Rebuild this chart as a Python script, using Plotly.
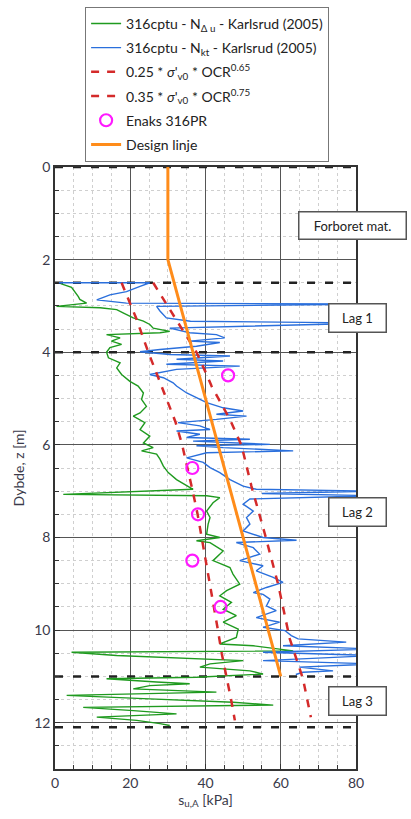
import plotly.graph_objects as go

# ---------------- data ----------------
green_z = [2.52, 2.60, 2.80, 2.86, 2.94, 3.01, 3.04, 3.08, 3.15, 3.26,
           3.33, 3.40, 3.48, 3.55, 3.58, 3.62, 3.69, 3.76, 3.83, 3.90,
           4.00, 4.12, 4.23, 4.34, 4.48, 4.63, 4.73, 4.88, 5.02, 5.17,
           5.31, 5.38, 5.52, 5.67, 5.81, 5.96, 6.06, 6.13, 6.20, 6.31,
           6.46, 6.60, 6.75, 6.89, 6.96, 7.07, 7.10, 7.14, 7.25, 7.43,
           7.57, 7.71, 7.93, 8.00, 8.07, 8.11, 8.29, 8.50, 8.65, 8.79,
           9.01, 9.15, 9.26, 9.40, 9.55, 9.69, 9.83, 9.98, 10.16, 10.30,
           10.34, 10.45, 10.48, 10.55, 10.63, 10.66, 10.73, 10.80, 10.88, 10.95,
           11.02, 11.05, 11.12, 11.16, 11.20, 11.27, 11.34, 11.41, 11.48, 11.56,
           11.62, 11.67, 11.74, 11.81, 11.88, 11.95, 12.02, 12.06]
green_su = [1.5, 4.4, 6.2, 6.6, 8.4, 0.4, 12.0, 16.4, 18.1, 20.8,
            23.5, 25.2, 26.1, 30.5, 27.9, 13.7, 17.3, 15.0, 17.7, 14.6,
            13.7, 14.2, 17.3, 16.4, 17.7, 19.9, 22.1, 23.5, 23.0, 24.3,
            22.6, 20.8, 23.9, 22.6, 25.2, 23.5, 26.1, 23.0, 27.0, 27.9,
            28.8, 30.1, 32.3, 35.0, 36.7, 2.2, 40.3, 43.8, 42.0, 40.3,
            41.2, 40.7, 40.3, 43.8, 37.6, 41.2, 44.7, 42.0, 46.5, 47.3,
            49.1, 45.6, 43.8, 46.9, 44.7, 48.2, 44.7, 48.7, 48.2, 43.8,
            52.7, 63.3, 4.4, 16.4, 43.8, 50.0, 41.2, 38.5, 51.8, 55.3,
            37.6, 13.7, 27.0, 35.8, 25.2, 20.8, 42.9, 3.1, 23.5, 47.3,
            58.0, 7.5, 20.8, 32.3, 11.1, 21.7, 27.9, 30.5]

blue_z = [2.50, 2.50, 2.58, 2.69, 2.76, 2.87, 2.94, 2.96, 3.01, 3.11,
          3.26, 3.33, 3.37, 3.48, 3.58, 3.62, 3.69, 3.76, 3.79, 3.87,
          3.94, 3.99, 4.05, 4.08, 4.15, 4.19, 4.26, 4.30, 4.37, 4.44,
          4.48, 4.55, 4.66, 4.73, 4.88, 4.98, 5.09, 5.20, 5.27, 5.34,
          5.38, 5.45, 5.52, 5.59, 5.67, 5.70, 5.77, 5.84, 5.88, 5.92,
          5.99, 6.02, 6.06, 6.13, 6.17, 6.28, 6.38, 6.49, 6.60, 6.75,
          6.89, 6.96, 7.00, 7.05, 7.10, 7.17, 7.28, 7.43, 7.57, 7.71,
          7.86, 8.00, 8.06, 8.11, 8.22, 8.36, 8.50, 8.61, 8.72, 8.86,
          8.97, 9.08, 9.19, 9.23, 9.33, 9.48, 9.58, 9.73, 9.83, 9.94,
          10.01, 10.12, 10.19, 10.26, 10.34, 10.41, 10.48, 10.55, 10.66, 10.73,
          10.80, 10.88, 10.91, 10.96]
blue_su = [1.0, 25.2, 22.6, 19.0, 14.6, 11.1, 19.0, 85.0, 27.0, 27.9,
           29.6, 36.0, 85.0, 30.5, 35.8, 42.9, 45.1, 35.8, 43.8, 37.6,
           27.9, 22.6, 30.5, 46.5, 32.3, 44.7, 29.6, 49.1, 32.3, 27.9,
           25.2, 28.8, 31.4, 32.3, 35.0, 37.6, 40.3, 44.7, 50.0, 42.9,
           50.9, 42.9, 32.7, 38.5, 41.2, 32.3, 38.5, 35.0, 51.8, 36.7,
           57.1, 37.6, 44.7, 63.3, 40.3, 35.0, 39.4, 41.2, 43.8, 46.5,
           50.0, 53.5, 85.0, 55.0, 85.0, 51.8, 50.0, 52.7, 50.9, 51.8,
           50.0, 55.3, 64.2, 48.2, 52.7, 54.4, 49.1, 55.3, 53.5, 58.0,
           60.6, 56.2, 52.7, 55.3, 57.1, 56.2, 58.8, 53.5, 59.7, 55.3,
           61.1, 62.8, 64.6, 77.4, 60.6, 85.0, 55.3, 85.0, 55.3, 85.0,
           65.0, 73.9, 65.9, 64.0]

red1_z = [2.5, 3.25, 4.0, 4.5, 5.0, 5.5, 6.0, 6.5, 7.0, 7.5, 8.0, 8.5, 9.0, 9.5, 10.0, 10.5, 11.0, 11.5, 11.95]
red1_su = [17.7, 21.5, 24.8, 27.2, 29.5, 32.0, 33.8, 35.3, 36.6, 37.9, 39.0, 40.0, 41.1, 42.3, 43.3, 44.3, 45.6, 46.8, 47.8]

red2_z = [2.5, 3.26, 4.0, 4.48, 4.73, 5.45, 6.02, 6.89, 7.93, 9.01, 10.19, 11.05, 11.88]
red2_su = [26.1, 31.9, 37.6, 40.3, 41.6, 46.5, 49.6, 52.2, 55.8, 59.3, 62.4, 65.9, 68.0]

pr_z = [4.5, 6.5, 7.5, 8.5, 9.5]
pr_su = [46.0, 36.5, 38.0, 36.5, 44.0]

design_z = [0, 2, 11]
design_su = [30, 30, 60]

layer_depths = [0, 2.5, 4, 11, 12.1]
layer_x = [0, 79]

labels = ["Forboret mat.", "Lag 1", "Lag 2", "Lag 3"]
label_depths = [1.27, 3.25, 7.46, 11.53]

FONT = "Lato"
TXT = "#3a3a4a"

fig = go.Figure()

for d in layer_depths:
    fig.add_trace(go.Scatter(x=layer_x, y=[d, d], mode="lines", showlegend=False,
                             hoverinfo="skip",
                             line=dict(color="#222222", width=2.5, dash="8px,10px")))

fig.add_trace(go.Scatter(x=green_su, y=green_z, mode="lines", legendgroup="g1",
                         name="316cptu - N<sub>\u0394 u</sub> - Karlsrud (2005)",
                         line=dict(color="#1f9a1f", width=1.4)))
fig.add_trace(go.Scatter(x=blue_su, y=blue_z, mode="lines", legendgroup="g2",
                         name="316cptu - N<sub>kt</sub> - Karlsrud (2005)",
                         line=dict(color="#2a6fdc", width=1.4)))
fig.add_trace(go.Scatter(x=red1_su, y=red1_z, mode="lines", legendgroup="g3",
                         name="0.25 * <i>\u03c3</i>'<sub>v0</sub> * OCR<sup>0.65</sup>",
                         line=dict(color="#d42a2a", width=2.5, dash="8px,8px")))
fig.add_trace(go.Scatter(x=red2_su, y=red2_z, mode="lines", legendgroup="g4",
                         name="0.35 * <i>\u03c3</i>'<sub>v0</sub> * OCR<sup>0.75</sup>",
                         line=dict(color="#d42a2a", width=2.5, dash="8px,8px")))
fig.add_trace(go.Scatter(x=pr_su, y=pr_z, mode="markers", name="Enaks 316PR", legendgroup="g5",
                         marker=dict(symbol="circle-open", size=12, color="#ff19ff",
                                     line=dict(width=2.2, color="#ff19ff"))))
fig.add_trace(go.Scatter(x=design_su, y=design_z, mode="lines", name="Design linje", legendgroup="g6",
                         line=dict(color="#ff8c1a", width=3)))

for text, depth in zip(labels, label_depths):
    big = text == "Forboret mat."
    fig.add_annotation(x=0.99 if big else 1.005, y=depth,
                       xref="paper", yref="y", text=text, showarrow=False,
                       font=dict(family=FONT, size=13, color="#222222"),
                       bgcolor="white", bordercolor="#555555", borderwidth=1.5,
                       borderpad=5, width=96 if big else 46, height=16 if big else 17,
                       xanchor="center", yanchor="middle")

fig.update_layout(
    width=411, height=819,
    margin=dict(l=55, r=55, t=167, b=50, autoexpand=False),
    paper_bgcolor="white", plot_bgcolor="white",
    font=dict(family=FONT, size=14, color=TXT),
    legend=dict(x=0.1, y=1.266, xanchor="left", yanchor="top",
                bgcolor="white", bordercolor="#777777", borderwidth=1,
                font=dict(family=FONT, size=14, color="#222222"),
                itemwidth=30, tracegroupgap=3, traceorder="grouped"),
    xaxis=dict(range=[0, 80], dtick=20, tick0=0, showgrid=True,
               gridcolor="#555555", gridwidth=1,
               showline=True, linecolor="#333333", linewidth=1.5, mirror=True,
               ticks="inside", ticklen=5, tickcolor="#333333",
               minor=dict(dtick=5, showgrid=True, gridcolor="#cfcfcf",
                          griddash="dot", ticks="inside", ticklen=4, tickcolor="#333333"),
               zeroline=False,
               title=dict(text="s<sub>u,A</sub> [kPa]", font=dict(size=14, color=TXT), standoff=4),
               tickfont=dict(size=14, color=TXT)),
    yaxis=dict(range=[13, 0], dtick=2, tick0=0, showgrid=True,
               gridcolor="#555555", gridwidth=1,
               showline=True, linecolor="#333333", linewidth=1.5, mirror=True,
               ticks="inside", ticklen=5, tickcolor="#333333",
               minor=dict(dtick=0.5, showgrid=True, gridcolor="#cfcfcf",
                          griddash="dot", ticks="inside", ticklen=4, tickcolor="#333333"),
               zeroline=False,
               title=dict(text="Dybde, z [m]", font=dict(size=14, color=TXT), standoff=6),
               tickfont=dict(size=14, color=TXT)),
)

fig.write_html("out.html")
